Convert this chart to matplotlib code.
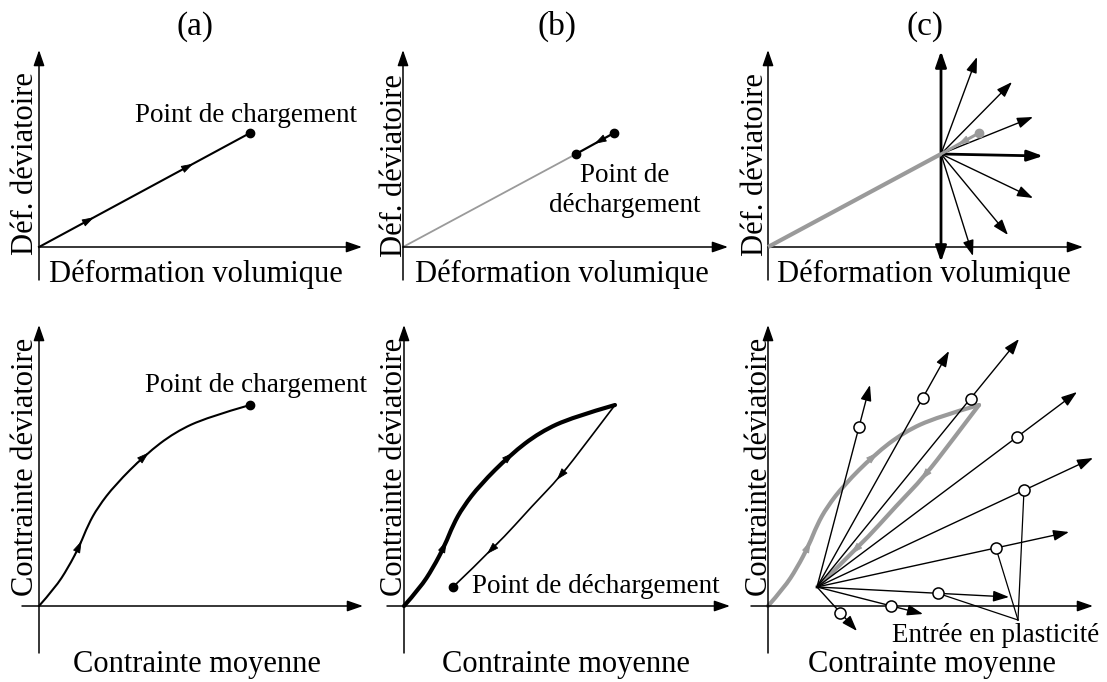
import matplotlib.pyplot as plt
from matplotlib.path import Path
from matplotlib.patches import PathPatch

W, H = 1107, 682
plt.rcParams["font.family"] = ["Liberation Serif", "DejaVu Serif"]

LABEL_SIZE = 22
TITLE_SIZE = 24
NOTE_SIZE = 19.5
GREY = "#9a9a9a"

# panel grid in px: column spans, row spans and the axis origin of each panel
COLS = [(0, 370), (370, 740), (740, 1107)]
ROWS = [(0, 300), (300, 682)]
ORIGINS = {
    (0, 0): (39, 247), (0, 1): (403, 247), (0, 2): (768, 247),
    (1, 0): (39, 606), (1, 1): (404, 606), (1, 2): (768, 606),
}
TITLES = ["(a)", "(b)", "(c)"]

# --- strain diagrams (top row), px relative to the axis origin -------------
strain_load_x = [0, 211]
strain_load_y = [0, 114]
strain_load_arrows = [0.24, 0.71]
strain_unload_x = [211, 173]
strain_unload_y = [114, 93]
# increment directions drawn from the unloading point
strain_fan_x = [209, 244, 265, 275, 265, 240, 205]
strain_fan_y = [190, 165, 130, 91, 49, 12, -9]
strain_fan_bold = [False, False, False, True, False, False, False]
strain_vert_y = [-15, 196]

# --- stress diagrams (bottom row) -----------------------------------------
stress_load_x = [0, 16, 29, 41, 49, 59, 76, 106, 136, 169, 211]
stress_load_y = [0, 18, 38, 61, 81, 99, 121, 151, 174, 189, 201]
stress_load_arrows = [3, 7]
stress_unload_x = [211, 183, 156, 129, 93, 49]
stress_unload_y = [201, 164, 129, 101, 61, 19]
stress_unload_arrows = [2, 4]
# stress paths from the unloading point and their first yield points
probe_tip_x = [102, 181, 251, 309, 325, 301, 241, 155, 89]
probe_tip_y = [221, 255, 267, 214, 148, 74, 9, -8, -25]
yield_frac = [0.79, 0.80, 0.76, 0.77, 0.75, 0.71, 0.63, 0.70, 0.58]
leader_from = [4, 5, 6]
leader_to = (250, -14)


def make_axes(fig, row, col):
    x0, x1 = COLS[col]
    y0, y1 = ROWS[row]
    ox, oy = ORIGINS[(row, col)]
    ax = fig.add_axes([x0 / W, 1 - y1 / H, (x1 - x0) / W, (y1 - y0) / H])
    ax.set_xlim(x0 - ox, x1 - ox)
    ax.set_ylim(oy - y1, oy - y0)
    ax.set_axis_off()
    return ax


def arrow(ax, start, end, color="k", lw=1.1, scale=10, hl=0.95, hw=0.33, z=3):
    ax.annotate("", xy=end, xytext=start,
                arrowprops=dict(arrowstyle=f"-|>,head_length={hl},head_width={hw}",
                                color=color, lw=lw, shrinkA=0, shrinkB=0,
                                mutation_scale=scale),
                annotation_clip=False, zorder=z)


def head_at(ax, px, py, dx, dy, color="k"):
    # arrow head centred on (px, py), pointing along (dx, dy)
    n = (dx * dx + dy * dy) ** 0.5
    ux, uy = dx / n, dy / n
    arrow(ax, (px - 12 * ux, py - 12 * uy), (px + 5 * ux, py + 5 * uy),
          color=color, lw=0.6, scale=10, hl=0.75, hw=0.24, z=5)


def smooth(ax, x, y, **kw):
    # quadratic B-spline through the control polygon, ends pinned
    verts = [(x[0], y[0])]
    codes = [Path.MOVETO]
    n = len(x)
    for i in range(1, n - 1):
        end = (x[-1], y[-1]) if i == n - 2 else ((x[i] + x[i + 1]) / 2, (y[i] + y[i + 1]) / 2)
        verts += [(x[i], y[i]), end]
        codes += [Path.CURVE3, Path.CURVE3]
    ax.add_patch(PathPatch(Path(verts, codes), fill=False, capstyle="round",
                           joinstyle="round", **kw))


def curve_heads(ax, x, y, idx, color="k"):
    n = len(x)
    for i in idx:
        a = (x[0], y[0]) if i == 1 else ((x[i - 1] + x[i]) / 2, (y[i - 1] + y[i]) / 2)
        b = (x[-1], y[-1]) if i == n - 2 else ((x[i] + x[i + 1]) / 2, (y[i] + y[i + 1]) / 2)
        px = 0.25 * a[0] + 0.5 * x[i] + 0.25 * b[0]
        py = 0.25 * a[1] + 0.5 * y[i] + 0.25 * b[1]
        head_at(ax, px, py, b[0] - a[0], b[1] - a[1], color=color)


def frame(ax, x_end, y_end, x_start=0, y_start=0):
    arrow(ax, (x_start, 0), (x_end, 0))
    arrow(ax, (0, y_start), (0, y_end))


fig = plt.figure(figsize=(W / 100, H / 100), dpi=100)

# ---------------- top row: strain space ----------------
top = [make_axes(fig, 0, c) for c in range(3)]
for ax, xe in zip(top, [323, 325, 315]):
    frame(ax, xe, 197, y_start=-33)

for ax, t, xc in zip(top, TITLES, [156, 154, 157]):
    ax.text(xc, 212, t, ha="center", va="baseline", fontsize=TITLE_SIZE)
for ax, xc in zip(top, [157, 159, 156]):
    ax.text(xc, -35, "Déformation volumique", ha="center", va="baseline",
            fontsize=LABEL_SIZE)
for ax, xb, yc in zip(top, [-6, -1, -5], [83, 81, 82]):
    ax.text(xb, yc, "Déf. déviatoire", rotation=90, rotation_mode="anchor",
            ha="center", va="baseline", fontsize=LABEL_SIZE)

# (a) loading
ax = top[0]
ax.plot(strain_load_x, strain_load_y, color="k", lw=1.5)
dx = strain_load_x[1] - strain_load_x[0]
dy = strain_load_y[1] - strain_load_y[0]
for f in strain_load_arrows:
    head_at(ax, strain_load_x[0] + f * dx, strain_load_y[0] + f * dy, dx, dy)
ax.plot(strain_load_x[-1], strain_load_y[-1], "o", color="k", ms=6)
ax.text(207, 125, "Point de chargement", ha="center", va="baseline",
        fontsize=NOTE_SIZE)

# (b) unloading
ax = top[1]
ax.plot([0, strain_unload_x[1]], [0, strain_unload_y[1]], color=GREY, lw=1.3)
ax.plot(strain_unload_x, strain_unload_y, color="k", lw=1.6)
udx = strain_unload_x[1] - strain_unload_x[0]
udy = strain_unload_y[1] - strain_unload_y[0]
head_at(ax, strain_unload_x[0] + 0.4 * udx, strain_unload_y[0] + 0.4 * udy, udx, udy)
ax.plot(strain_unload_x, strain_unload_y, "o", color="k", ms=6)
ax.text(222, 65, "Point de", ha="center", va="baseline", fontsize=NOTE_SIZE)
ax.text(222, 35, "déchargement", ha="center", va="baseline", fontsize=NOTE_SIZE)

# (c) possible increments from the unloading point
ax = top[2]
cx, cy = strain_unload_x[1], strain_unload_y[1]
arrow(ax, (cx, cy), (cx, strain_vert_y[1]), lw=2.0)
arrow(ax, (cx, cy), (cx, strain_vert_y[0]), lw=2.0)
for fx, fy, bold in zip(strain_fan_x, strain_fan_y, strain_fan_bold):
    arrow(ax, (cx, cy), (fx, fy), lw=2.0 if bold else 1.0)
ax.plot([0, cx], [0, cy], color=GREY, lw=3, zorder=4, solid_capstyle="butt")
ax.plot(strain_unload_x, strain_unload_y, color=GREY, lw=2.2, zorder=4)
head_at(ax, strain_unload_x[0] + 0.45 * udx, strain_unload_y[0] + 0.45 * udy,
        udx, udy, color=GREY)
ax.plot(strain_unload_x[0], strain_unload_y[0], "o", color=GREY, ms=6, zorder=5)

# ---------------- bottom row: stress space ----------------
bot = [make_axes(fig, 1, c) for c in range(3)]
for ax, xe in zip(bot, [324, 326, 325]):
    frame(ax, xe, 281, x_start=-17, y_start=-47)
for ax, xc in zip(bot, [158, 162, 164]):
    ax.text(xc, -66, "Contrainte moyenne", ha="center", va="baseline",
            fontsize=LABEL_SIZE)
for ax, xb in zip(bot, [-6, -2, -1]):
    ax.text(xb, 139, "Contrainte déviatoire", rotation=90, rotation_mode="anchor",
            ha="center", va="baseline", fontsize=LABEL_SIZE)

# (a) loading path
ax = bot[0]
smooth(ax, stress_load_x, stress_load_y, edgecolor="k", lw=1.5)
curve_heads(ax, stress_load_x, stress_load_y, stress_load_arrows)
ax.plot(stress_load_x[-1], stress_load_y[-1], "o", color="k", ms=6)
ax.text(217, 214, "Point de chargement", ha="center", va="baseline",
        fontsize=NOTE_SIZE)

# (b) loading then unloading
ax = bot[1]
smooth(ax, stress_load_x, stress_load_y, edgecolor="k", lw=3.0)
curve_heads(ax, stress_load_x, stress_load_y, stress_load_arrows)
smooth(ax, stress_unload_x, stress_unload_y, edgecolor="k", lw=1.2)
curve_heads(ax, stress_unload_x, stress_unload_y, stress_unload_arrows)
ax.plot(stress_unload_x[-1], stress_unload_y[-1], "o", color="k", ms=6)
ax.text(68, 13, "Point de déchargement", ha="left", va="baseline",
        fontsize=NOTE_SIZE)

# (c) probing paths from the unloaded state
ax = bot[2]
smooth(ax, stress_load_x, stress_load_y, edgecolor=GREY, lw=3.0, zorder=2)
curve_heads(ax, stress_load_x, stress_load_y, stress_load_arrows, color=GREY)
smooth(ax, stress_unload_x, stress_unload_y, edgecolor=GREY, lw=3.0, zorder=2)
curve_heads(ax, stress_unload_x, stress_unload_y, stress_unload_arrows, color=GREY)

fx, fy = stress_unload_x[-1], stress_unload_y[-1]
yx, yy = [], []
for tx, ty, t in zip(probe_tip_x, probe_tip_y, yield_frac):
    arrow(ax, (fx, fy), (tx, ty), lw=1.0)
    yx.append(fx + t * (tx - fx))
    yy.append(fy + t * (ty - fy))
for k in leader_from:
    ax.plot([yx[k], leader_to[0]], [yy[k], leader_to[1]], color="k", lw=0.9)
ax.plot(yx, yy, "o", mfc="white", mec="k", mew=1.1, ms=8, zorder=6)
ax.text(228, -36, "Entrée en plasticité", ha="center", va="baseline",
        fontsize=NOTE_SIZE)

fig.savefig("out.png", dpi=100)
